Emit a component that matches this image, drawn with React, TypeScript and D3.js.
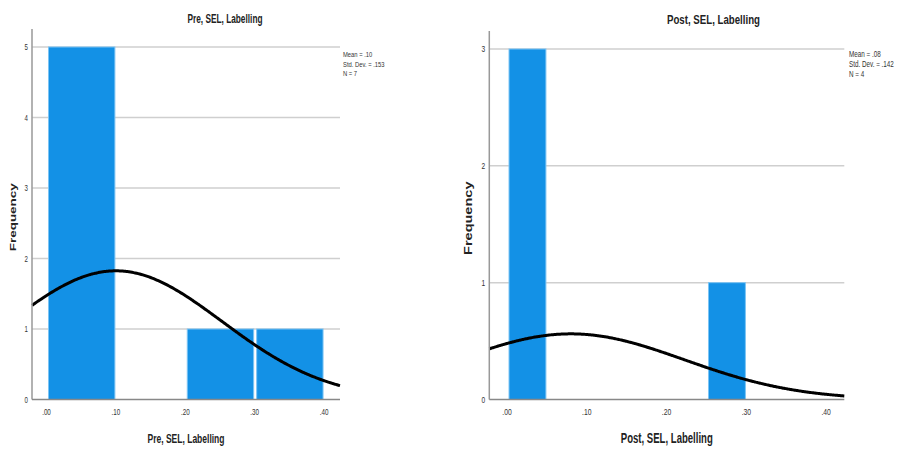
import React from "react";
import * as d3 from "d3";

// ---- data ----
const preBinEdges = [0, 0.1, 0.2, 0.3, 0.4];
const preCounts = [5, 0, 1, 1];
const preStats = { mean: 0.1, sd: 0.153, n: 7 };
const preYTicks = [0, 1, 2, 3, 4, 5];
const preXTicks = [0, 0.1, 0.2, 0.3, 0.4];
const preTitle = "Pre, SEL, Labelling";

const postBinEdges = [0, 0.05, 0.1, 0.15, 0.2, 0.25, 0.3];
const postCounts = [3, 0, 0, 0, 0, 1];
const postStats = { mean: 0.08, sd: 0.142, n: 4 };
const postYTicks = [0, 1, 2, 3];
const postXTicks = [0, 0.1, 0.2, 0.3, 0.4];
const postTitle = "Post, SEL, Labelling";

const statLabels = ["Mean = .10", "Std. Dev. = .153", "N = 7"];
const statLabelsPost = ["Mean = .08", "Std. Dev. = .142", "N = 4"];

const FONT = "'Liberation Sans', Arial, sans-serif";
const BAR = "#1391e6";
const BAR_EDGE = "#7cc4f4";

type STextProps = {
  x: number;
  y: number;
  size: number;
  sx: number;
  anchor?: string;
  bold?: boolean;
  rotate?: number;
  fill?: string;
  children: React.ReactNode;
};

function SText({ x, y, size, sx, anchor = "start", bold = false, rotate = 0, fill = "#333", children }: STextProps) {
  return (
    <text
      transform={`translate(${x},${y}) rotate(${rotate}) scale(${sx},1)`}
      textAnchor={anchor}
      fontFamily={FONT}
      fontWeight={bold ? "bold" : "normal"}
      fontSize={size}
      fill={fill}
    >
      {children}
    </text>
  );
}

type PanelProps = {
  edges: number[];
  counts: number[];
  stats: { mean: number; sd: number; n: number };
  yTicks: number[];
  xTicks: number[];
  title: string;
  statText: string[];
  left: number;
  right: number;
  top: number;
  bottom: number;
  xDomain: [number, number];
  yMax: number;
  titleX: number;
  titleY: number;
  titleSize: number;
  titleW: number;
  xTitleW: number;
  statX: number;
  statY: number;
  k: number;
  freqX: number;
};

const fmt = (v: number) => "." + d3.format(".2f")(v).split(".")[1];

function Panel(p: PanelProps) {
  const x = d3.scaleLinear().domain(p.xDomain).range([p.left, p.right]);
  const y = d3.scaleLinear().domain([0, p.yMax]).range([p.bottom, p.top]);
  const binW = p.edges[1] - p.edges[0];
  const bins = p.counts.map((c, i) => ({ x0: p.edges[i], x1: p.edges[i + 1], c }));
  const normal = (v: number) =>
    ((p.stats.n * binW) / (p.stats.sd * Math.sqrt(2 * Math.PI))) *
    Math.exp(-0.5 * ((v - p.stats.mean) / p.stats.sd) ** 2);
  const pts = d3.range(0, 201).map((i) => p.xDomain[0] + ((p.xDomain[1] - p.xDomain[0]) * i) / 200);
  const line = d3
    .line<number>()
    .x((d) => x(d))
    .y((d) => y(normal(d)))
    .curve(d3.curveBasis);
  const axisTop = p.top - 18;
  return (
    <g>
      <text
        x={p.titleX}
        y={p.titleY}
        textAnchor="middle"
        fontFamily={FONT}
        fontWeight="bold"
        fontSize={p.titleSize}
        fill="#222"
        textLength={p.titleW}
        lengthAdjust="spacingAndGlyphs"
      >
        {p.title}
      </text>
      {p.yTicks.filter((t) => t > 0).map((t) => (
        <line key={"g" + t} x1={p.left} x2={p.right} y1={y(t)} y2={y(t)} stroke="#cfcfcf" strokeWidth={1.5} />
      ))}
      {bins.filter((b) => b.c > 0).map((b, i) => (
        <rect
          key={"b" + i}
          x={x(b.x0) + 2}
          y={y(b.c)}
          width={x(b.x1) - x(b.x0) - 3}
          height={y(0) - y(b.c)}
          fill={BAR}
          stroke={BAR_EDGE}
          strokeWidth={1}
        />
      ))}
      <path d={line(pts) || ""} fill="none" stroke="#000" strokeWidth={3} />
      <line x1={p.left} x2={p.left} y1={axisTop} y2={p.bottom} stroke="#999" strokeWidth={1.5} />
      <line x1={p.left} x2={p.right} y1={p.bottom} y2={p.bottom} stroke="#888" strokeWidth={1.5} />
      {p.yTicks.map((t) => (
        <SText key={"yt" + t} x={p.left - 4} y={y(t) + 3} size={8.5 * p.k} sx={0.72} anchor="end">
          {t}
        </SText>
      ))}
      {p.xTicks.map((t) => (
        <SText key={"xt" + t} x={x(t)} y={p.bottom + 15} size={9 * p.k} sx={0.7} anchor="middle">
          {fmt(t)}
        </SText>
      ))}
      <text
        x={(p.left + p.right) / 2}
        y={p.bottom + 43}
        textAnchor="middle"
        fontFamily={FONT}
        fontWeight="bold"
        fontSize={p.titleSize + 0.5}
        fill="#222"
        textLength={p.xTitleW}
        lengthAdjust="spacingAndGlyphs"
      >
        {p.title}
      </text>
      <text
        transform={`translate(${p.freqX},${(axisTop + p.bottom) / 2 + 3}) rotate(-90)`}
        textAnchor="middle"
        fontFamily={FONT}
        fontWeight="bold"
        fontSize={9.5 * p.k}
        fill="#222"
        textLength={68 * p.k}
        lengthAdjust="spacingAndGlyphs"
      >
        Frequency
      </text>
      {p.statText.map((s, i) => (
        <SText key={"s" + i} x={p.statX} y={p.statY + i * 9.5 * p.k} size={8 * p.k} sx={0.73}>
          {s}
        </SText>
      ))}
    </g>
  );
}

export default function App() {
  return (
    <svg width={899} height={450} style={{ position: "absolute", left: 0, top: 0, background: "#fff" }}>
      <rect width={899} height={450} fill="#fff" />
      <Panel
        edges={preBinEdges}
        counts={preCounts}
        stats={preStats}
        yTicks={preYTicks}
        xTicks={preXTicks}
        title={preTitle}
        statText={statLabels}
        left={32}
        right={340}
        top={47}
        bottom={399.5}
        xDomain={[-0.0209, 0.423]}
        yMax={5}
        titleX={225}
        titleY={23}
        titleSize={12.5}
        titleW={75}
        xTitleW={77}
        statX={343}
        statY={57}
        k={1}
        freqX={15.5}
      />
      <Panel
        edges={postBinEdges}
        counts={postCounts}
        stats={postStats}
        yTicks={postYTicks}
        xTicks={postXTicks}
        title={postTitle}
        statText={statLabelsPost}
        left={489.3}
        right={844.3}
        top={49}
        bottom={399.5}
        xDomain={[-0.0222, 0.4227]}
        yMax={3}
        titleX={713.5}
        titleY={24}
        titleSize={13.5}
        titleW={93}
        xTitleW={92}
        statX={849}
        statY={56.5}
        k={1.08}
        freqX={471.5}
      />
    </svg>
  );
}
